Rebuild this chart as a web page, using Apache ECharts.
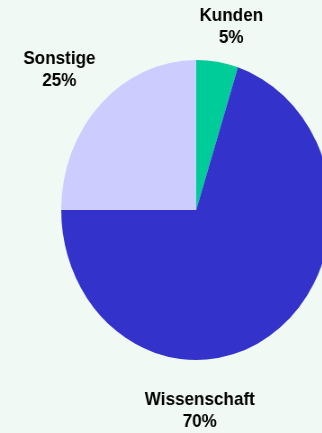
<!DOCTYPE html>
<html>
<head>
<meta charset="utf-8">
<script src="https://cdn.jsdelivr.net/npm/echarts@6/dist/echarts.min.js"></script>
<style>
    html, body { margin: 0; padding: 0; background: #f1f9f4; overflow: hidden; }
    #wrap { width: 322px; height: 433px; overflow: hidden; position: relative; }
    /* pie in the reference is squeezed horizontally, so draw wider and scale down */
    #chart { width: 358px; height: 433px; transform: scaleX(0.9); transform-origin: 0 0; }
</style>
</head>
<body>
<div id="wrap"><div id="chart"></div></div>
<script>
var categories = ['Kunden', 'Wissenschaft', 'Sonstige'];
var values = [5, 70, 25];
var colors = ['#00cc99', '#3333cc', '#ccccff'];

// label anchor points (canvas px, before the 0.9 horizontal squeeze)
var labelSpots = [[257, 27], [222, 411], [66, 70]];

var chart = echarts.init(document.getElementById('chart'));

var pieData = [];
for (var i = 0; i < categories.length; i++) {
    pieData.push({
        name: categories[i],
        value: values[i],
        itemStyle: {color: colors[i]}
    });
}

var option = {
    backgroundColor: '#f1f9f4',
    animation: false,
    series: [{
        type: 'pie',
        center: [218, 210],
        radius: [0, 150],
        startAngle: 90,
        clockwise: true,
        avoidLabelOverlap: false,
        data: pieData,
        label: {
            show: true,
            position: 'outside',
            alignTo: 'none',
            overflow: 'none',
            formatter: '{b}\n{d}%',
            fontFamily: 'Liberation Sans, Arial, sans-serif',
            fontWeight: 'bold',
            fontSize: 19,
            lineHeight: 22,
            color: '#000',
            align: 'center'
        },
        labelLine: {show: false},
        labelLayout: function (params) {
            var p = labelSpots[params.dataIndex];
            return {
                x: p[0],
                y: p[1],
                align: 'center',
                verticalAlign: 'middle',
                hideOverlap: false,
                moveOverlap: null
            };
        },
        emphasis: {disabled: true}
    }]
};

chart.setOption(option);
</script>
</body>
</html>
